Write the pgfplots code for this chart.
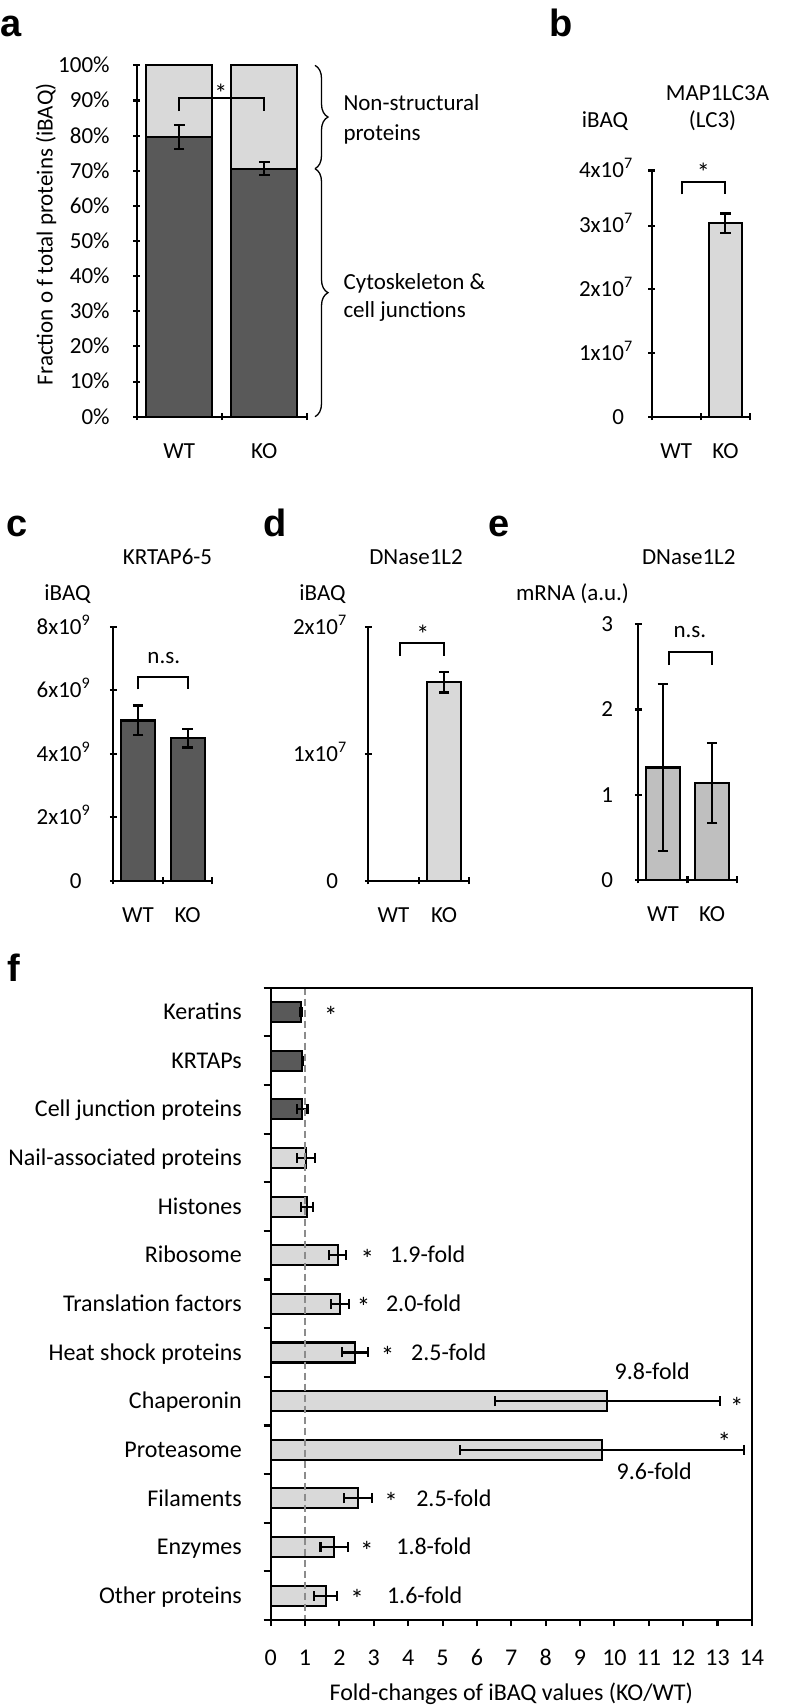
\documentclass[border=0pt]{standalone}
\usepackage{fontspec}
\setmainfont{Carlito}
\newfontfamily\panelfont{Liberation Sans}
\usepackage{pgfplots}
\pgfplotsset{compat=1.18}
\usetikzlibrary{decorations.pathreplacing}
\definecolor{darkbar}{HTML}{595959}
\definecolor{lightbar}{HTML}{D9D9D9}
\definecolor{midbar}{HTML}{BFBFBF}
\definecolor{dashgray}{HTML}{8C8C8C}
\newcommand\tf{\fontsize{23}{27}\selectfont}
\newcommand\ff{\fontsize{24}{28}\selectfont}
\newcommand\lf{\panelfont\bfseries\fontsize{38}{40}\selectfont}
\newcommand\sx[1]{\rlap{\textsuperscript{#1}}}
\tikzset{brk/.style={line width=2.1pt}}

\pgfplotsset{
  common/.style={
    scale only axis, anchor=south west, axis on top, clip=false,
    /pgf/number format/assume math mode=true,
    tick align=outside, tick pos=left,
    major tick length=7pt, minor tick length=7pt,
    tick style={black, line width=2.1pt},
    axis line style={line width=2.1pt, -},
    tick label style={font=\tf, inner sep=0pt},
    xticklabel style={anchor=base, yshift=-38.5pt},
  },
  small/.style={
    common, axis x line=bottom, axis y line=left,
    x axis line style={-}, y axis line style={-},
    every outer x axis line/.append style={-},
    every outer y axis line/.append style={-},
    xmin=0.5, xmax=2.5, ymin=0, xtick={1,2}, xticklabels={WT,KO},
    major x tick style={draw=none}, minor xtick={0.5,1.5,2.5},
  },
  bars/.style={ybar, bar shift=0pt, draw=black, line width=2.1pt},
  errs/.style={error bars/y dir=both, error bars/y explicit,
    error bars/error bar style={line width=2.1pt, black},
    error bars/error mark options={rotate=90, line width=2.1pt, mark size=5.3pt, black}},
  xerrs/.style={error bars/x dir=both, error bars/x explicit,
    error bars/error bar style={line width=2.1pt, black},
    error bars/error mark options={rotate=90, line width=2.1pt, mark size=5pt, black}},
}

\begin{document}
\begin{tikzpicture}
\path[use as bounding box] (0,0) rectangle (786pt,1707pt);

% ---------- panel a ----------
\begin{axis}[small, at={(136.7pt,1290.3pt)}, width=170pt, height=351.3pt,
  ymax=100, ytick={0,10,...,100},
  yticklabels={0\%,10\%,20\%,30\%,40\%,50\%,60\%,70\%,80\%,90\%,100\%},
  yticklabel style={anchor=base east, yshift=-7.4pt, xshift=-23.4pt}]
\addplot[fill=lightbar, bars, bar width=66pt] coordinates {(1,100) (2,100)};
\addplot[fill=darkbar, bars, bar width=66pt, errs] coordinates {(1,79.6) +- (0,3.5) (2,70.6) +- (0,1.85)};
\draw[brk] (axis cs:1,87.0) -- (axis cs:1,90.7) -- (axis cs:2,90.7) -- (axis cs:2,87.0);
\node[font=\fontsize{26}{28}\selectfont, anchor=base, yshift=-12.6pt] at (axis cs:1.49,93.0) {*};
\end{axis}
\draw[line width=1.3pt, decorate, decoration={brace, amplitude=13pt}] (315pt,1641.6pt) -- (315pt,1538.3pt);
\draw[line width=1.3pt, decorate, decoration={brace, amplitude=13pt}] (315pt,1538.3pt) -- (315pt,1290.3pt);
\node[font=\tf, anchor=base west, inner sep=0pt] at (343.3pt,1596pt) {Non-structural};
\node[font=\tf, anchor=base west, inner sep=0pt] at (343.3pt,1566.7pt) {proteins};
\node[font=\tf, anchor=base west, inner sep=0pt] at (343.3pt,1417pt) {Cytoskeleton \&};
\node[font=\tf, anchor=base west, inner sep=0pt] at (343.3pt,1389.6pt) {cell junctions};
\node[font=\tf, rotate=90, anchor=base, inner sep=0pt] at (52.5pt,1472.9pt) {Fraction o f total proteins (iBAQ)};
\node[font=\lf, anchor=base west, inner sep=0pt] at (0pt,1670.8pt) {a};

% ---------- panel b ----------
\begin{axis}[small, at={(651.7pt,1290.3pt)}, width=98.3pt, height=246.2pt,
  ymax=3.865, ytick={0,1,2,3,3.865},
  yticklabels={0,{1x10\sx{7}},{2x10\sx{7}},{3x10\sx{7}},{4x10\sx{7}}},
  yticklabel style={anchor=base east, yshift=-7.4pt, xshift=-24pt}]
\addplot[fill=lightbar, bars, bar width=33pt] coordinates {(1,0)};
\addplot[fill=lightbar, bars, bar width=33pt, errs] coordinates {(2,3.04) +- (0,0.15)};
\draw[brk] (axis cs:1.11,3.49) -- (axis cs:1.11,3.68) -- (axis cs:2,3.68) -- (axis cs:2,3.49);
\node[font=\fontsize{26}{28}\selectfont, anchor=base, yshift=-12.6pt] at (axis cs:1.55,3.89) {*};
\end{axis}
\node[font=\tf, anchor=base, inner sep=0pt] at (717.5pt,1606.5pt) {MAP1LC3A};
\node[font=\tf, anchor=base, inner sep=0pt] at (712.5pt,1579pt) {(LC3)};
\node[font=\tf, anchor=base, inner sep=0pt] at (605pt,1579pt) {iBAQ};
\node[font=\lf, anchor=base west, inner sep=0pt] at (549pt,1670.8pt) {b};

% ---------- panel c ----------
\begin{axis}[small, at={(113.3pt,826pt)}, width=99pt, height=254.3pt,
  ymax=8, ytick={0,2,4,6,8},
  yticklabels={0,{2x10\sx{9}},{4x10\sx{9}},{6x10\sx{9}},{8x10\sx{9}}},
  yticklabel style={anchor=base east, yshift=-7.4pt, xshift=-28pt}]
\addplot[fill=darkbar, bars, bar width=34pt, errs] coordinates {(1,5.05) +- (0,0.47) (2,4.49) +- (0,0.29)};
\draw[brk] (axis cs:1,6.03) -- (axis cs:1,6.43) -- (axis cs:2,6.43) -- (axis cs:2,6.03);
\node[font=\tf, anchor=base, yshift=-5.4pt] at (axis cs:1.52,7.0) {n.s.};
\end{axis}
\node[font=\tf, anchor=base, inner sep=0pt] at (167.5pt,1142.8pt) {KRTAP6-5};
\node[font=\tf, anchor=base, inner sep=0pt] at (67.5pt,1106.5pt) {iBAQ};
\node[font=\lf, anchor=base west, inner sep=0pt] at (6pt,1170.3pt) {c};

% ---------- panel d ----------
\begin{axis}[small, at={(368.3pt,826pt)}, width=101pt, height=254.3pt,
  ymax=2, ytick={0,1,2},
  yticklabels={0,{1x10\sx{7}},{2x10\sx{7}}},
  yticklabel style={anchor=base east, yshift=-7.4pt, xshift=-26.6pt}]
\addplot[fill=lightbar, bars, bar width=34pt] coordinates {(1,0)};
\addplot[fill=lightbar, bars, bar width=34pt, errs] coordinates {(2,1.562) +- (0,0.08)};
\draw[brk] (axis cs:1.13,1.77) -- (axis cs:1.13,1.87) -- (axis cs:2,1.87) -- (axis cs:2,1.77);
\node[font=\fontsize{26}{28}\selectfont, anchor=base, yshift=-12.6pt] at (axis cs:1.58,1.97) {*};
\end{axis}
\node[font=\tf, anchor=base, inner sep=0pt] at (416pt,1142.8pt) {DNase1L2};
\node[font=\tf, anchor=base, inner sep=0pt] at (322.5pt,1106.5pt) {iBAQ};
\node[font=\lf, anchor=base west, inner sep=0pt] at (263.5pt,1170.3pt) {d};

% ---------- panel e ----------
\begin{axis}[small, at={(638.3pt,827pt)}, width=98.4pt, height=255.7pt,
  ymax=3, ytick={0,1,2,3},
  yticklabel style={anchor=base east, yshift=-7.4pt, xshift=-21.6pt}]
\addplot[fill=midbar, bars, bar width=33.4pt, errs] coordinates {(1,1.32) +- (0,0.98) (2,1.14) +- (0,0.47)};
\draw[brk] (axis cs:1.13,2.52) -- (axis cs:1.13,2.67) -- (axis cs:2,2.67) -- (axis cs:2,2.52);
\node[font=\tf, anchor=base, yshift=-5.4pt] at (axis cs:1.55,2.91) {n.s.};
\end{axis}
\node[font=\tf, anchor=base, inner sep=0pt] at (688.75pt,1142.8pt) {DNase1L2};
\node[font=\tf, anchor=base, inner sep=0pt] at (572.5pt,1106.5pt) {mRNA (a.u.)};
\node[font=\lf, anchor=base west, inner sep=0pt] at (488pt,1170.3pt) {e};

% ---------- panel f ----------
\begin{axis}[common, at={(270.7pt,87pt)}, width=481.2pt, height=632.3pt,
  xmin=0, xmax=14, ymin=0.5, ymax=13.5, y dir=reverse,
  xtick={0,1,...,14}, ytick={1,2,...,13},
  yticklabels={Keratins,KRTAPs,Cell junction proteins,Nail-associated proteins,Histones,Ribosome,Translation factors,Heat shock proteins,Chaperonin,Proteasome,Filaments,Enzymes,Other proteins},
  major y tick style={draw=none}, minor ytick={0.5,1.5,...,13.5},
  major tick length=6pt,
  tick label style={font=\ff},
  yticklabel style={anchor=base east, yshift=-7.7pt, xshift=-22.7pt},
  xticklabel style={yshift=-0.7pt},
  xlabel={Fold-changes of iBAQ values (KO/WT)},
  xlabel style={font=\ff, at={(axis description cs:0.5,0)}, anchor=base, yshift=-80.5pt, inner sep=0pt},
]
\addplot[xbar, bar shift=0pt, bar width=20pt, fill=darkbar, draw=black, line width=2.1pt, xerrs]
  coordinates {(0.875,1) +- (0.02,0) (0.92,2) +- (0.02,0) (0.92,3) +- (0.15,0)};
\addplot[xbar, bar shift=0pt, bar width=20pt, fill=lightbar, draw=black, line width=2.1pt, xerrs]
  coordinates {(1.02,4) +- (0.26,0) (1.05,5) +- (0.17,0) (1.95,6) +- (0.25,0) (2.01,7) +- (0.26,0)
  (2.46,8) +- (0.38,0) (9.79,9) +- (3.27,0) (9.64,10) +- (4.12,0) (2.55,11) +- (0.41,0)
  (1.85,12) +- (0.40,0) (1.60,13) +- (0.33,0)};
\addplot[dashgray, line width=1.5pt, dash pattern=on 7pt off 4pt] coordinates {(1,0.5) (1,13.5)};
\node[font=\fontsize{27}{29}\selectfont, anchor=base, yshift=-13pt] at (axis cs:1.75,1) {*};
\node[font=\fontsize{27}{29}\selectfont, anchor=base, yshift=-13pt] at (axis cs:2.81,6) {*};
\node[font=\fontsize{27}{29}\selectfont, anchor=base, yshift=-13pt] at (axis cs:2.70,7) {*};
\node[font=\fontsize{27}{29}\selectfont, anchor=base, yshift=-13pt] at (axis cs:3.40,8) {*};
\node[font=\fontsize{27}{29}\selectfont, anchor=base, yshift=-13pt] at (axis cs:13.56,9.05) {*};
\node[font=\fontsize{27}{29}\selectfont, anchor=base, yshift=-13pt] at (axis cs:13.2,9.76) {*};
\node[font=\fontsize{27}{29}\selectfont, anchor=base, yshift=-13pt] at (axis cs:3.5,11) {*};
\node[font=\fontsize{27}{29}\selectfont, anchor=base, yshift=-13pt] at (axis cs:2.8,12) {*};
\node[font=\fontsize{27}{29}\selectfont, anchor=base, yshift=-13pt] at (axis cs:2.51,13) {*};
\node[font=\ff, anchor=base west, inner sep=0pt, yshift=-7.7pt] at (axis cs:3.47,6) {1.9-fold};
\node[font=\ff, anchor=base west, inner sep=0pt, yshift=-7.7pt] at (axis cs:3.35,7) {2.0-fold};
\node[font=\ff, anchor=base west, inner sep=0pt, yshift=-7.7pt] at (axis cs:4.08,8) {2.5-fold};
\node[font=\ff, anchor=base, inner sep=0pt, yshift=-7.7pt] at (axis cs:11.1,8.39) {9.8-fold};
\node[font=\ff, anchor=base, inner sep=0pt, yshift=-7.7pt] at (axis cs:11.16,10.45) {9.6-fold};
\node[font=\ff, anchor=base west, inner sep=0pt, yshift=-7.7pt] at (axis cs:4.23,11) {2.5-fold};
\node[font=\ff, anchor=base west, inner sep=0pt, yshift=-7.7pt] at (axis cs:3.65,12) {1.8-fold};
\node[font=\ff, anchor=base west, inner sep=0pt, yshift=-7.7pt] at (axis cs:3.38,13) {1.6-fold};
\end{axis}
\node[font=\lf, anchor=base west, inner sep=0pt] at (7pt,725.3pt) {f};
\end{tikzpicture}
\end{document}
